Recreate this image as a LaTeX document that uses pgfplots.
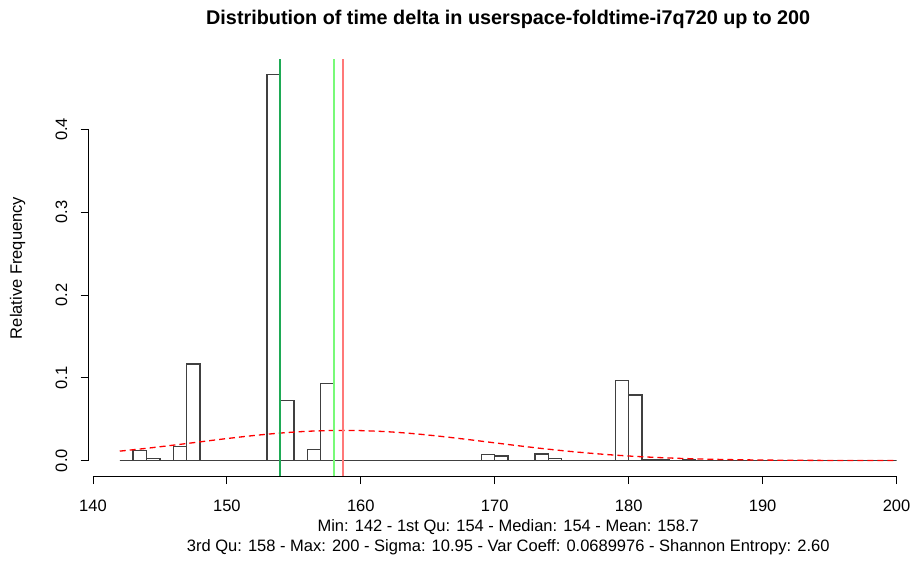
\documentclass[border=0pt]{standalone}
\usepackage{fontspec}
\setmainfont{Liberation Sans}
\usepackage{pgfplots}
\pgfplotsset{compat=1.18}

\definecolor{meddark}{RGB}{30,170,85}
\definecolor{qlight}{RGB}{120,250,120}
\definecolor{meanred}{RGB}{255,120,120}

\begin{document}
\begin{tikzpicture}
\begin{axis}[
  scale only axis,
  width=838.9pt, height=417.2pt,
  xmin=139.68, xmax=202.32,
  ymin=-0.01867, ymax=0.4854,
  clip=false,
  axis line style={draw=none},
  xtick={140,150,...,200},
  ytick={0,0.1,...,0.4},
  xtick pos=left, ytick pos=left,
  tick align=outside,
  major tick length=8pt,
  tick style={black, line width=0.9pt},
  /pgf/number format/assume math mode=true,
  tick label style={font=\fontsize{16.5}{19.8}\selectfont},
  yticklabel style={/pgf/number format/fixed, /pgf/number format/fixed zerofill,
                    /pgf/number format/precision=1, xshift=-10pt, rotate=90, anchor=south},
  xticklabel style={anchor=north, yshift=-12pt},
]
% histogram (relative frequency per 1-unit bin)
\addplot[ybar interval, draw=black!75, fill=none, line width=1.4pt] coordinates {
 (142,0) (143,0.0118) (144,0.0022) (145,0) (146,0.0167) (147,0.1166)
 (148,0) (149,0) (150,0) (151,0) (152,0) (153,0.4667) (154,0.0727)
 (155,0) (156,0.0131) (157,0.0928) (158,0) (159,0) (160,0) (161,0)
 (162,0) (163,0) (164,0) (165,0) (166,0) (167,0) (168,0) (169,0.0075)
 (170,0.0054) (171,0) (172,0) (173,0.0078) (174,0.0022) (175,0) (176,0)
 (177,0) (178,0) (179,0.0964) (180,0.0792) (181,0.001) (182,0.001)
 (183,0) (184,0.001) (185,0) (186,0) (187,0) (188,0) (189,0) (190,0)
 (191,0) (192,0) (193,0) (194,0) (195,0) (196,0) (197,0) (198,0) (199,0)
 (200,0)};
% fitted normal density
\addplot[red, dash pattern=on 6pt off 4pt, line width=1.3pt, smooth] coordinates {
 (142,0.01138) (144,0.01479) (146,0.01859) (148,0.0226) (150,0.02657)
 (152,0.03021) (154,0.03322) (156,0.03534) (158,0.03636) (158.7,0.03643)
 (160,0.03617) (162,0.03481) (164,0.03241) (166,0.02917) (168,0.0254)
 (170,0.02139) (172,0.01742) (174,0.01372) (176,0.01046) (178,0.00771)
 (180,0.00549) (182,0.00379) (184,0.00252) (186,0.00163) (188,0.00102)
 (190,0.00061) (192,0.00036) (194,0.0002) (196,0.0001) (198,0.00005)
 (200,0.00002)};
% median, 3rd quartile, mean
\addplot[meddark, line width=2pt] coordinates {(154,-0.01867) (154,0.4854)};
\addplot[qlight, line width=2pt] coordinates {(158,-0.01867) (158,0.4854)};
\addplot[meanred, line width=2pt] coordinates {(158.7,-0.01867) (158.7,0.4854)};
% R-style axis lines
\draw[black, line width=0.9pt] (axis cs:140,-0.01867) -- (axis cs:200,-0.01867);
\draw[black, line width=0.9pt] (axis cs:139.68,0) -- (axis cs:139.68,0.4);
\end{axis}
\node[anchor=base, font=\bfseries\fontsize{19.8}{24}\selectfont] at (419.5pt,451pt)
  {Distribution of time delta in userspace-foldtime-i7q720 up to 200};
\node[anchor=base, rotate=90, font=\fontsize{16.5}{19.8}\selectfont] at (-66.7pt,208pt)
  {Relative Frequency};
\node[anchor=base, font=\fontsize{16.5}{19.8}\selectfont] at (419.5pt,-55pt)
  {Min: 142 - 1st Qu: 154 - Median: 154 - Mean: 158.7};
\node[anchor=base, font=\fontsize{16.5}{19.8}\selectfont] at (419.5pt,-75pt)
  {3rd Qu: 158 - Max: 200 - Sigma: 10.95 - Var Coeff: 0.0689976 - Shannon Entropy: 2.60};
\pgfresetboundingbox
\path (-88.7pt,-84pt) rectangle (824.3pt,476pt);
\end{tikzpicture}
\end{document}
